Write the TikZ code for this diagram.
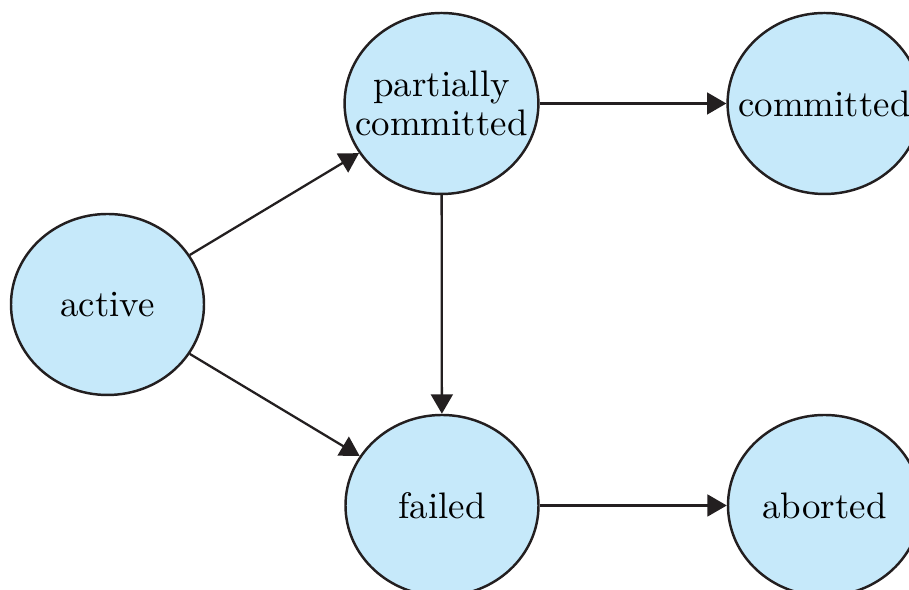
\documentclass[tikz,border=0pt]{standalone}
\usepackage{tikz}
\usetikzlibrary{shapes.geometric,arrows.meta}
\definecolor{statefill}{RGB}{198,233,250}
\definecolor{stateline}{RGB}{35,31,32}

\begin{document}
\begin{tikzpicture}[
  state/.style={ellipse,draw=stateline,fill=statefill,line width=0.7pt,
    minimum width=1.93cm,minimum height=1.81cm,inner xsep=-5pt,inner ysep=0pt,
    align=center,font=\fontsize{10.5}{11}\selectfont},
  trans/.style={draw=stateline,line width=0.65pt,-{Triangle[length=5.5pt,width=6.2pt]}}]
\clip (0,0) rectangle (9.09,5.90);
\node[state] (active)at(1.075,2.855){active};
\node[state] (partial)at(4.415,4.865){partially\\committed};
\node[state] (committed)at(8.245,4.865){committed};
\node[state] (failed)at(4.42,0.845){failed};
\node[state] (aborted)at(8.245,0.845){aborted};
\draw [trans] (active)--(partial);
\draw [trans] (active)--(failed);
\draw [trans] (partial)--(committed);
\draw [trans] (partial)--(failed);
\draw [trans] (failed)--(aborted);
\end{tikzpicture}
\end{document}
